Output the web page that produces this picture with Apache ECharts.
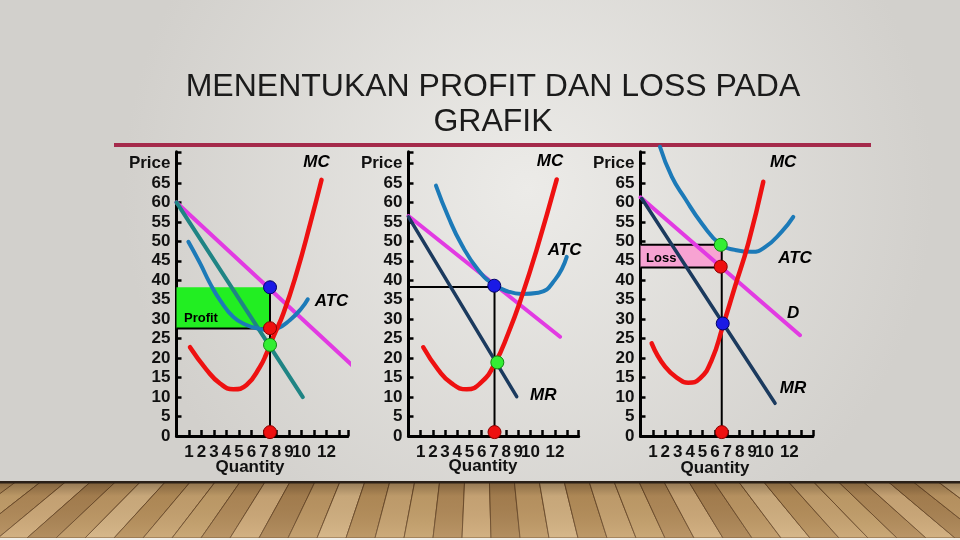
<!DOCTYPE html>
<html><head><meta charset="utf-8">
<script src="https://cdn.jsdelivr.net/npm/echarts@6/dist/echarts.min.js"></script>
<style>html,body{margin:0;padding:0;background:#ddd;} #c{width:960px;height:540px;}</style>
</head><body><div id="c"></div>
<script>
// ---------- DATA ----------
const titleLines = ['MENENTUKAN PROFIT DAN LOSS PADA', 'GRAFIK'];
const yTickValues = [0,5,10,15,20,25,30,35,40,45,50,55,60,65,70];
const yTopLabel = 'Price';
const xShownTicks = [1,2,3,4,5,6,7,8,9,10,12];
const xAxisName = 'Quantity';

// Panel 1 : profit
const p1Demand = [[0,60],[14.1,18]];
const p1MR = [[0,60],[10.1,10]];
const p1ATC = [[0.95,49.9],[1.88,44.4],[2.68,39.2],[3.48,34.9],[4.54,30.6],[5.6,28.5],[6.68,27.5],[7.4,27.2],[8.0,27.5],[9.08,29.8],[10.0,32.8],[10.5,35.1]];
const p1MC = [[1.08,22.8],[2.41,17],[3.48,13.5],[4.54,12],[5.6,13.1],[6.68,17.8],[7.2,21.2],[7.75,25.5],[8.55,31.5],[9.6,41.8],[10.7,54.6],[11.6,65.8]];
const p1Box = [[0, 7.48, 27.6, 38.2]];
const p1Drop = [[7.48,38.2],[7.48,0]];
const p1Floor = [[0,27.6],[7.48,27.6]];
const p1Blue = [[7.48,38.2]];
const p1Red = [[7.48,27.7],[7.48,1]];
const p1Green = [[7.48,23.4]];
const p1Labels = [{name:'MC',value:[11.2,70.2]},{name:'ATC',value:[12.4,34.7]}];
const p1BoxText = [{name:'Profit',value:[0.6,30.3]}];

// Panel 2 : normal
const p2Demand = [[0,56.5],[12.42,25.5]];
const p2MR = [[0,56.3],[8.87,10.1]];
const p2ATC = [[2.25,64.3],[3.26,56.3],[4.36,49.1],[5.73,42.6],[7.03,38.8],[8.18,37.1],[9.28,36.5],[10.65,36.8],[12.0,40.1],[12.97,46]];
const p2MC = [[1.21,22.8],[2.44,17],[3.54,13.5],[4.77,12],[6.0,13.9],[7.09,18.7],[8.18,26.4],[9.28,35.8],[10.5,47.8],[12.15,65.9]];
const p2Level = [[0,38.3],[7.03,38.3]];
const p2Drop = [[7.05,38.5],[7.05,0]];
const p2Blue = [[7.03,38.6]];
const p2Red = [[7.05,1]];
const p2Green = [[7.28,18.9]];
const p2Labels = [{name:'MC',value:[11.6,70.5]},{name:'ATC',value:[12.8,47.8]},{name:'MR',value:[11.05,10.5]}];

// Panel 3 : loss
const p3Demand = [[0,61.3],[12.86,25.9]];
const p3MR = [[0.1,61],[10.85,8.4]];
const p3ATC = [[1.57,74.3],[2.52,66.6],[3.59,61],[4.94,54.6],[6.47,49.1],[7.62,47.8],[8.97,47.3],[10.04,48.5],[11.39,52.5],[12.32,56.3]];
const p3MC = [[0.9,23.8],[1.98,17.8],[3.19,14.4],[3.85,13.7],[4.8,14.8],[5.74,19.5],[6.63,28.1],[7.62,38.4],[8.69,49.5],[9.9,65.3]];
const p3Box = [[0, 6.5, 43.3, 49.1]];
const p3Edges = [[[0,49.1],[6.5,49.1]],[[0,43.3],[6.5,43.3]]];
const p3Drop = [[6.55,49.1],[6.55,0]];
const p3Green = [[6.47,49.1]];
const p3Red = [[6.47,43.5],[6.55,1]];
const p3Blue = [[6.63,28.9]];
const p3Labels = [{name:'MC',value:[11.5,70.2]},{name:'ATC',value:[12.46,45.6]},{name:'D',value:[12.3,31.5]},{name:'MR',value:[12.3,12.3]}];
const p3BoxText = [{name:'Loss',value:[0.45,45.5]}];

// ---------- LAYOUT / STYLE ----------
const FONT = '"Liberation Sans", Arial, sans-serif';
const C = {red:'#ee1111', atc:'#1c7ab8', mag:'#e23ae2', teal:'#1f8484', navy:'#1b3a5e',
           green:'#22ee22', pink:'#f7a3d2', dotBlue:'#1a1ae6', dotRed:'#ee1010', dotGreen:'#33ee33'};
const grids = [
  {left:176.5, top:151.8, width:171.3, height:284.2, xmax:13.7},
  {left:408.5, top:151.8, width:170.2, height:284.2, xmax:13.95},
  {left:640.5, top:151.8, width:172.4, height:284.2, xmax:13.9}
];

const gridOpt = grids.map(g=>({left:g.left, top:g.top, width:g.width, height:g.height, containLabel:false}));
const xAxes = grids.map((g,i)=>({
  type:'value', gridIndex:i, min:0, max:g.xmax, interval:1,
  axisLine:{lineStyle:{color:'#000', width:3}},
  axisTick:{inside:true, length:6, lineStyle:{color:'#000', width:2.5}},
  splitLine:{show:false},
  axisLabel:{margin:8, color:'#111', fontFamily:FONT, fontWeight:'bold', fontSize:17,
    formatter:v=> xShownTicks.includes(v) ? String(v) : ''}
}));
const yAxes = grids.map((g,i)=>({
  type:'value', gridIndex:i, min:0, max:73, interval:5,
  axisLine:{lineStyle:{color:'#000', width:3}},
  axisTick:{inside:true, length:5, lineStyle:{color:'#000', width:2.5}},
  splitLine:{show:false},
  axisLabel:{margin:6, color:'#111', fontFamily:FONT, fontWeight:'bold', fontSize:17,
    formatter:v=> v===70 ? yTopLabel : (yTickValues.includes(v) ? String(v) : '')}
}));

function curve(i, data, color, width, smooth){
  return {type:'line', xAxisIndex:i, yAxisIndex:i, data, symbol:'none', clip:false, silent:true,
    smooth: smooth ? 0.5 : false,
    lineStyle:{color, width, cap:'round'}, z:3};
}
function thin(i, data){
  return {type:'line', xAxisIndex:i, yAxisIndex:i, data, symbol:'none', clip:false, silent:true,
    lineStyle:{color:'#000', width:2}, z:2};
}
function dots(i, data, color, border){
  return {type:'scatter', xAxisIndex:i, yAxisIndex:i, data, symbol:'circle', symbolSize:13, clip:false,
    itemStyle:{color, borderColor:border, borderWidth:1, opacity:1}, z:6};
}
function labels(i, data, italic, align){
  return {type:'scatter', xAxisIndex:i, yAxisIndex:i, data, symbolSize:0, clip:false, z:7,
    itemStyle:{opacity:1, color:'transparent'},
    label:{show:true, position:'inside', formatter:p=>p.name, color:'#000', fontFamily:FONT,
      fontWeight:'bold', fontStyle: italic?'italic':'normal', fontSize: italic?17:13, align: align||'center',
      textBorderWidth:0}};
}
function box(i, data, fill){
  return {type:'custom', xAxisIndex:i, yAxisIndex:i, data, z:1, silent:true,
    encode:{x:[0,1], y:[2,3]},
    renderItem:(params, api)=>{
      const a = api.coord([api.value(0), api.value(3)]);
      const b = api.coord([api.value(1), api.value(2)]);
      return {type:'rect', shape:{x:a[0], y:a[1], width:b[0]-a[0], height:b[1]-a[1]}, style:{fill}};
    }};
}

const series = [
  // panel 1
  box(0, p1Box, C.green), thin(0, p1Floor), thin(0, p1Drop),
  curve(0, p1Demand, C.mag, 4, false), curve(0, p1MR, C.teal, 4, false),
  curve(0, p1ATC, C.atc, 4, true), curve(0, p1MC, C.red, 4.5, true),
  dots(0, p1Blue, C.dotBlue, '#000066'), dots(0, p1Red, C.dotRed, '#880000'), dots(0, p1Green, C.dotGreen, '#118811'),
  labels(0, p1Labels, true), labels(0, p1BoxText, false, 'left'),
  // panel 2
  thin(1, p2Level), thin(1, p2Drop),
  curve(1, p2Demand, C.mag, 4, false), curve(1, p2MR, C.navy, 3.5, false),
  curve(1, p2ATC, C.atc, 4, true), curve(1, p2MC, C.red, 4.5, true),
  dots(1, p2Blue, C.dotBlue, '#000066'), dots(1, p2Red, C.dotRed, '#880000'), dots(1, p2Green, C.dotGreen, '#118811'),
  labels(1, p2Labels, true),
  // panel 3
  box(2, p3Box, C.pink), thin(2, p3Edges[0]), thin(2, p3Edges[1]), thin(2, p3Drop),
  curve(2, p3Demand, C.mag, 4, false), curve(2, p3MR, C.navy, 3.5, false),
  curve(2, p3ATC, C.atc, 4, true), curve(2, p3MC, C.red, 4.5, true),
  dots(2, p3Green, C.dotGreen, '#118811'), dots(2, p3Red, C.dotRed, '#880000'), dots(2, p3Blue, C.dotBlue, '#000066'),
  labels(2, p3Labels, true), labels(2, p3BoxText, false, 'left')
];

// ---------- DECORATION ----------
const graphic = [];
graphic.push({type:'rect', z:-10, silent:true, shape:{x:0,y:0,width:960,height:540},
  style:{fill:new echarts.graphic.RadialGradient(0.55,0.35,0.75,[{offset:0,color:'#ecebe8'},{offset:1,color:'#d2d0cc'}])}});
// floor
const floorTop = 482, floorBot = 538;
const plankColors = ['#c3a06c','#b08a58','#cdab7a','#a88251','#bd9864','#d2b283','#b48e5a','#c6a371'];
graphic.push({type:'rect', z:-9, silent:true, shape:{x:0,y:floorTop,width:960,height:floorBot-floorTop},
  style:{fill:'#b8925f'}});
for (let k=0, xb=-60; xb<1020; k++, xb+=29){
  const t0 = 480 + (xb-480)*0.86, t1 = 480 + (xb+29-480)*0.86;
  graphic.push({type:'polygon', z:-8, silent:true,
    shape:{points:[[t0,floorTop],[t1,floorTop],[xb+29,floorBot],[xb,floorBot]]},
    style:{fill:plankColors[k%plankColors.length], stroke:'#6a4a2a', lineWidth:1, opacity:0.95}});
}
graphic.push({type:'rect', z:-7, silent:true, shape:{x:0,y:floorTop,width:960,height:floorBot-floorTop},
  style:{fill:new echarts.graphic.LinearGradient(0,0,0,1,[{offset:0,color:'rgba(40,25,10,0.35)'},{offset:0.25,color:'rgba(40,25,10,0.06)'},{offset:1,color:'rgba(255,240,210,0.12)'}])}});
graphic.push({type:'rect', z:-6, silent:true, shape:{x:0,y:floorTop-1,width:960,height:2.5}, style:{fill:'#2a2018'}});
graphic.push({type:'rect', z:-6, silent:true, shape:{x:0,y:floorBot,width:960,height:2}, style:{fill:'#f2f0ec'}});
// rule under title
graphic.push({type:'rect', z:-5, silent:true, shape:{x:114,y:143,width:757,height:4}, style:{fill:'#a52a4b'}});
// title
graphic.push({type:'text', z:5, silent:true, x:493, y:87, style:{text:titleLines[0], font:'32px '+FONT, fill:'#1b1b1b', textAlign:'center', textVerticalAlign:'middle'}});
graphic.push({type:'text', z:5, silent:true, x:493, y:122, style:{text:titleLines[1], font:'32px '+FONT, fill:'#1b1b1b', textAlign:'center', textVerticalAlign:'middle'}});
// axis names
[[250,467],[483,466],[715,468]].forEach(p=>{
  graphic.push({type:'text', z:5, silent:true, x:p[0], y:p[1], style:{text:xAxisName, font:'bold 17px '+FONT, fill:'#111', textAlign:'center', textVerticalAlign:'middle'}});
});

const chart = echarts.init(document.getElementById('c'), null, {renderer:'canvas'});
chart.setOption({animation:false, backgroundColor:'transparent', grid:gridOpt, xAxis:xAxes, yAxis:yAxes, series, graphic});
</script>
</body></html>
